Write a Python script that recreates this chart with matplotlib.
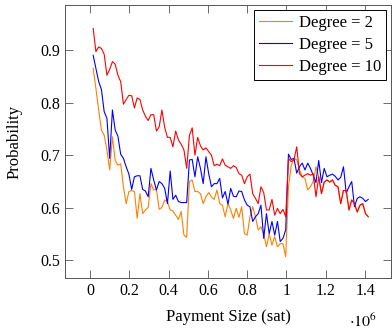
import numpy as np
import matplotlib
matplotlib.use("Agg")
import matplotlib.pyplot as plt

plt.rcParams["font.family"] = ["Liberation Serif", "DejaVu Serif"]
plt.rcParams["mathtext.fontset"] = "stix"

# payment size in units of 10^6 sat
payment = np.round(np.arange(0.016, 1.417, 0.014), 3)

prob_deg2 = [
    0.865, 0.827, 0.786, 0.748, 0.738, 0.710, 0.672, 0.735, 0.690, 0.681,
    0.684, 0.640, 0.608, 0.631, 0.633, 0.631, 0.580, 0.627, 0.589, 0.596,
    0.601, 0.646, 0.634, 0.635, 0.597, 0.601, 0.615, 0.612, 0.596, 0.594,
    0.586, 0.578, 0.593, 0.548, 0.544, 0.650, 0.653, 0.631, 0.631, 0.627,
    0.608, 0.621, 0.629, 0.621, 0.616, 0.634, 0.608, 0.605, 0.583, 0.608,
    0.596, 0.580, 0.599, 0.582,
    0.602, 0.551, 0.548, 0.583, 0.602, 0.583, 0.558, 0.564, 0.551, 0.526,
    0.551, 0.529, 0.545, 0.526, 0.532, 0.532, 0.507, 0.640, 0.680, 0.694,
    0.691, 0.672, 0.659, 0.656, 0.634, 0.640, 0.650, 0.678, 0.659, 0.627,
    0.649, 0.653, 0.649, 0.653, 0.643, 0.640, 0.608, 0.633, 0.633, 0.596,
    0.615, 0.608, 0.592, 0.605, 0.608, 0.589, 0.583,
]

prob_deg5 = [
    0.890, 0.865, 0.840, 0.825, 0.783, 0.770, 0.694, 0.786, 0.748, 0.736,
    0.702, 0.694, 0.678, 0.664, 0.635, 0.659, 0.661, 0.661, 0.635, 0.632,
    0.621, 0.675, 0.653, 0.634, 0.650, 0.646, 0.637, 0.608, 0.670, 0.616,
    0.624, 0.612, 0.610, 0.610, 0.610, 0.691, 0.692, 0.659, 0.697, 0.675,
    0.646, 0.697, 0.665, 0.640, 0.646, 0.646, 0.656, 0.619, 0.631, 0.607,
    0.637, 0.622, 0.621, 0.632,
    0.631, 0.615, 0.605, 0.602, 0.574, 0.583, 0.589, 0.605, 0.542, 0.589,
    0.551, 0.574, 0.548, 0.574, 0.536, 0.542, 0.558, 0.702, 0.692, 0.694,
    0.666, 0.678, 0.685, 0.672, 0.685, 0.675, 0.662, 0.648, 0.690, 0.648,
    0.675, 0.659, 0.662, 0.664, 0.660, 0.653, 0.658, 0.678, 0.628, 0.640,
    0.650, 0.602, 0.618, 0.621, 0.618, 0.612, 0.616,
]

prob_deg10 = [
    0.941, 0.897, 0.906, 0.903, 0.892, 0.852, 0.863, 0.878, 0.873, 0.852,
    0.840, 0.797, 0.806, 0.814, 0.813, 0.790, 0.809, 0.806, 0.786, 0.774,
    0.766, 0.777, 0.777, 0.746, 0.754, 0.786, 0.753, 0.734, 0.734, 0.716,
    0.746, 0.729, 0.721, 0.710, 0.675, 0.738, 0.752, 0.700, 0.734, 0.718,
    0.710, 0.714, 0.707, 0.700, 0.680, 0.683, 0.680, 0.693, 0.681, 0.678,
    0.675, 0.680, 0.677, 0.665,
    0.662, 0.646, 0.659, 0.664, 0.627, 0.618, 0.608, 0.640, 0.629, 0.596,
    0.596, 0.616, 0.586, 0.599, 0.589, 0.597, 0.583, 0.694, 0.688, 0.691,
    0.716, 0.665, 0.659, 0.662, 0.665, 0.662, 0.665, 0.621, 0.659, 0.627,
    0.649, 0.653, 0.649, 0.653, 0.643, 0.640, 0.608, 0.633, 0.633, 0.596,
    0.615, 0.608, 0.592, 0.605, 0.608, 0.589, 0.583,
]

fig = plt.figure(figsize=(3.92, 3.33), dpi=100)
ax = fig.add_axes([0.166, 0.165, 0.8315, 0.82])

ax.plot(payment, prob_deg2, color="#ff8000", lw=0.8, label="Degree = 2")
ax.plot(payment, prob_deg5, color="#0000ff", lw=0.8, label="Degree = 5")
ax.plot(payment, prob_deg10, color="#ff0000", lw=0.8, label="Degree = 10")

ax.set_xlim(-0.127, 1.532)
ax.set_ylim(0.4665, 0.9856)
ax.set_xticks([0, 0.2, 0.4, 0.6, 0.8, 1.0, 1.2, 1.4])
ax.set_xticklabels(["0", "0.2", "0.4", "0.6", "0.8", "1", "1.2", "1.4"])
ax.set_yticks([0.5, 0.6, 0.7, 0.8, 0.9])
ax.tick_params(direction="in", length=5.5, width=0.6, color="#555555",
               top=True, right=True, labelsize=11.5, pad=3.5)
for s in ax.spines.values():
    s.set_linewidth(0.7)
    s.set_color("#555555")

ax.set_xlabel("Payment Size (sat)", fontsize=12, labelpad=7)
ax.set_ylabel("Probability", fontsize=12)
ax.yaxis.set_label_coords(-0.13, 0.5)
ax.text(0.914, -0.16, r"$\cdot 10^{6}$", transform=ax.transAxes,
        ha="center", va="center", fontsize=11.5)

leg = ax.legend(loc="upper right", fontsize=12, fancybox=False,
                framealpha=1, edgecolor="black", handlelength=2.0,
                handletextpad=0.4, borderaxespad=0.3, labelspacing=0.35,
                borderpad=0.3)
leg.get_frame().set_linewidth(0.7)

fig.savefig("out.png", dpi=100)
